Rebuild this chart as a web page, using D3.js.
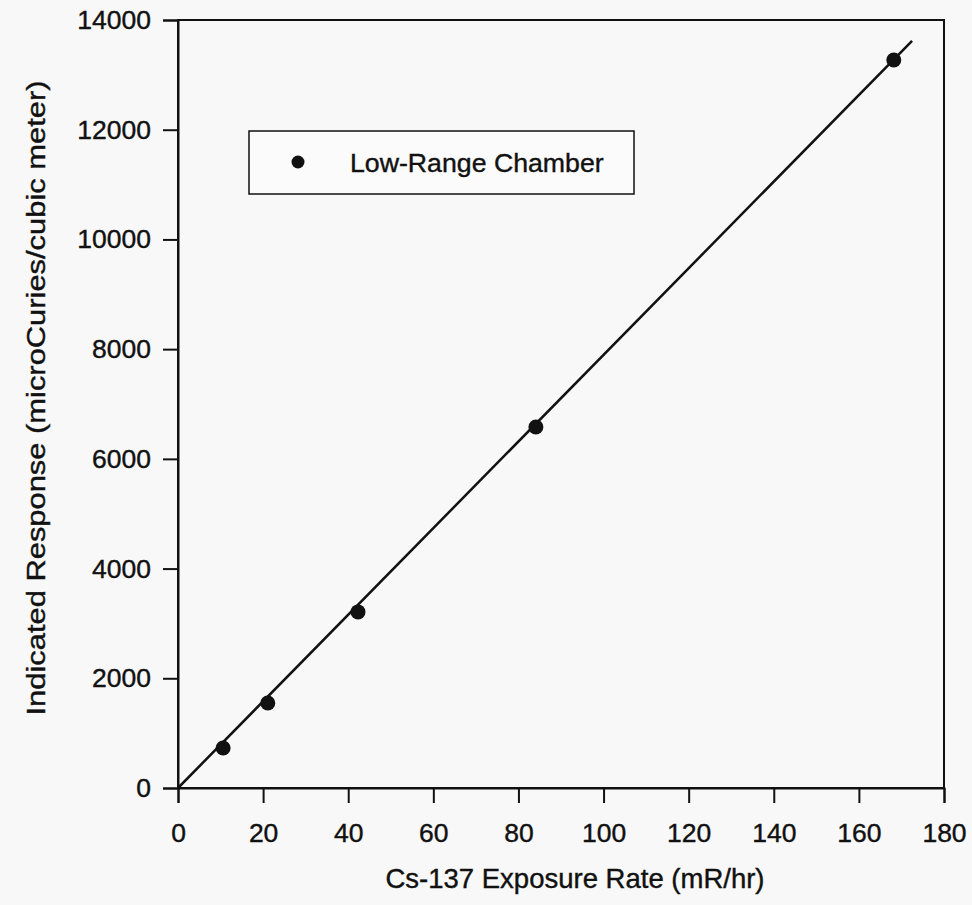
<!DOCTYPE html>
<html>
<head>
<meta charset="utf-8">
<script src="https://cdn.jsdelivr.net/npm/d3@7"></script>
<style>
  body { margin: 0; background: #f8f8f8; }
  svg text { font-family: "Liberation Sans", Arial, sans-serif; fill: #111; stroke: #111; stroke-width: 0.4; }
</style>
</head>
<body>
<svg id="chart" width="972" height="905"></svg>
<script>
// measured points (Cs-137 exposure rate vs indicated response)
const exposureRate = [10.6, 21.1, 42.3, 84.1, 168.2];
const response = [730, 1550, 3210, 6580, 13270];
// fitted line end points
const fitX = [0, 172.5];
const fitY = [0, 13620];
const xTicks = [0, 20, 40, 60, 80, 100, 120, 140, 160, 180];
const yTicks = [0, 2000, 4000, 6000, 8000, 10000, 12000, 14000];
const legendLabel = "Low-Range Chamber";

const svg = d3.select("#chart");
const margin = {left: 178, right: 28, top: 20, bottom: 117};
const W = 972, H = 905;

const x = d3.scaleLinear().domain([0, 180]).range([margin.left, W - margin.right]);
const y = d3.scaleLinear().domain([0, 14000]).range([H - margin.bottom, margin.top]);

// frame
svg.append("rect")
   .attr("x", x(0)).attr("y", y(14000))
   .attr("width", x(180) - x(0)).attr("height", y(0) - y(14000))
   .attr("fill", "none").attr("stroke", "#111").attr("stroke-width", 2);

let xAxis = svg.append("g")
   .attr("transform", "translate(0," + y(0) + ")")
   .call(d3.axisBottom(x).tickValues(xTicks).tickSize(15).tickPadding(20));
let yAxis = svg.append("g")
   .attr("transform", "translate(" + x(0) + ",0)")
   .call(d3.axisLeft(y).tickValues(yTicks).tickSize(15).tickPadding(12).tickFormat(d3.format("d")));

[xAxis, yAxis].forEach(a => {
    a.select(".domain").attr("stroke", "#111").attr("stroke-width", 2);
    a.selectAll(".tick line").attr("stroke", "#111").attr("stroke-width", 2);
    a.selectAll("text").attr("font-size", 26.5).attr("fill", "#111")
     .style("font-family", "'Liberation Sans', Arial, sans-serif");
});

// fit line
svg.append("line")
   .attr("x1", x(fitX[0])).attr("y1", y(fitY[0]))
   .attr("x2", x(fitX[1])).attr("y2", y(fitY[1]))
   .attr("stroke", "#111").attr("stroke-width", 2.5);

svg.selectAll("circle.pt")
   .data(exposureRate)
   .join("circle")
   .attr("class", "pt")
   .attr("cx", d => x(d))
   .attr("cy", (d, i) => y(response[i]))
   .attr("r", 7.5)
   .attr("fill", "#111");

// legend
let lg = svg.append("g");
lg.append("rect")
  .attr("x", 249).attr("y", 131).attr("width", 385).attr("height", 63)
  .attr("fill", "#fbfbfb").attr("stroke", "#111").attr("stroke-width", 1.5);
lg.append("circle").attr("cx", 298).attr("cy", 162).attr("r", 6.5).attr("fill", "#111");
lg.append("text").attr("x", 350).attr("y", 172).attr("font-size", 26.7).text(legendLabel);

// axis titles
svg.append("text")
   .attr("x", 575).attr("y", 888)
   .attr("text-anchor", "middle").attr("font-size", 27.5)
   .text("Cs-137 Exposure Rate (mR/hr)");
svg.append("text")
   .attr("transform", "translate(45,398) rotate(-90)")
   .attr("text-anchor", "middle").attr("font-size", 26)
   .attr("textLength", 635).attr("lengthAdjust", "spacingAndGlyphs")
   .text("Indicated Response (microCuries/cubic meter)");
</script>
</body>
</html>
